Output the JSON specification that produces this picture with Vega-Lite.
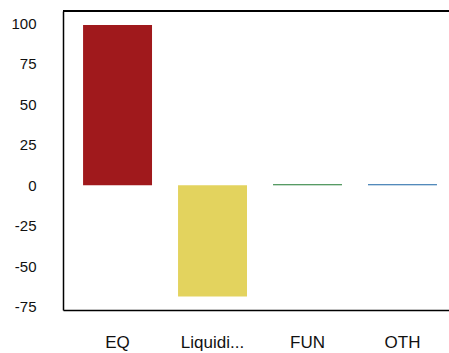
{
  "$schema": "https://vega.github.io/schema/vega-lite/v6.json",
  "width": 386,
  "height": 299,
  "autosize": {"type": "none"},
  "padding": {"left": 63, "top": 11, "right": 0, "bottom": 43},
  "background": "white",
  "config": {
    "view": {"stroke": null},
    "font": "Liberation Sans"
  },
  "data": {
    "values": [
      {"category": "EQ", "value": 99},
      {"category": "Liquidi...", "value": -68.7},
      {"category": "FUN", "value": 0.7},
      {"category": "OTH", "value": 0.7}
    ]
  },
  "layer": [
    {
      "mark": {"type": "bar"},
      "encoding": {
        "x": {
          "field": "category",
          "type": "nominal",
          "sort": null,
          "scale": {"paddingInner": 0.274, "paddingOuter": 0.169, "align": 0.625},
          "axis": {
            "title": null,
            "labelAngle": 0,
            "ticks": false,
            "labelPadding": 24,
            "labelFontSize": 17,
            "labelColor": "#111111",
            "domainColor": "#000000",
            "domainWidth": 1.5,
            "grid": false
          }
        },
        "y": {
          "field": "value",
          "type": "quantitative",
          "scale": {"domain": [-77, 107.6], "nice": false, "zero": false},
          "axis": {
            "title": null,
            "values": [-75, -50, -25, 0, 25, 50, 75, 100],
            "labelExpr": "toString(datum.value)",
            "ticks": false,
            "grid": false,
            "labelPadding": 27,
            "labelFontSize": 15,
            "labelColor": "#111111",
            "domainColor": "#000000",
            "domainWidth": 1.5
          }
        },
        "color": {
          "field": "category",
          "type": "nominal",
          "legend": null,
          "scale": {
            "domain": ["EQ", "Liquidi...", "FUN", "OTH"],
            "range": ["#A0191C", "#E3D35E", "#1F7A30", "#1A63A5"]
          }
        }
      }
    },
    {
      "mark": {"type": "rule", "color": "#000000", "strokeWidth": 1.5},
      "encoding": {"y": {"datum": 107.6}}
    }
  ]
}
